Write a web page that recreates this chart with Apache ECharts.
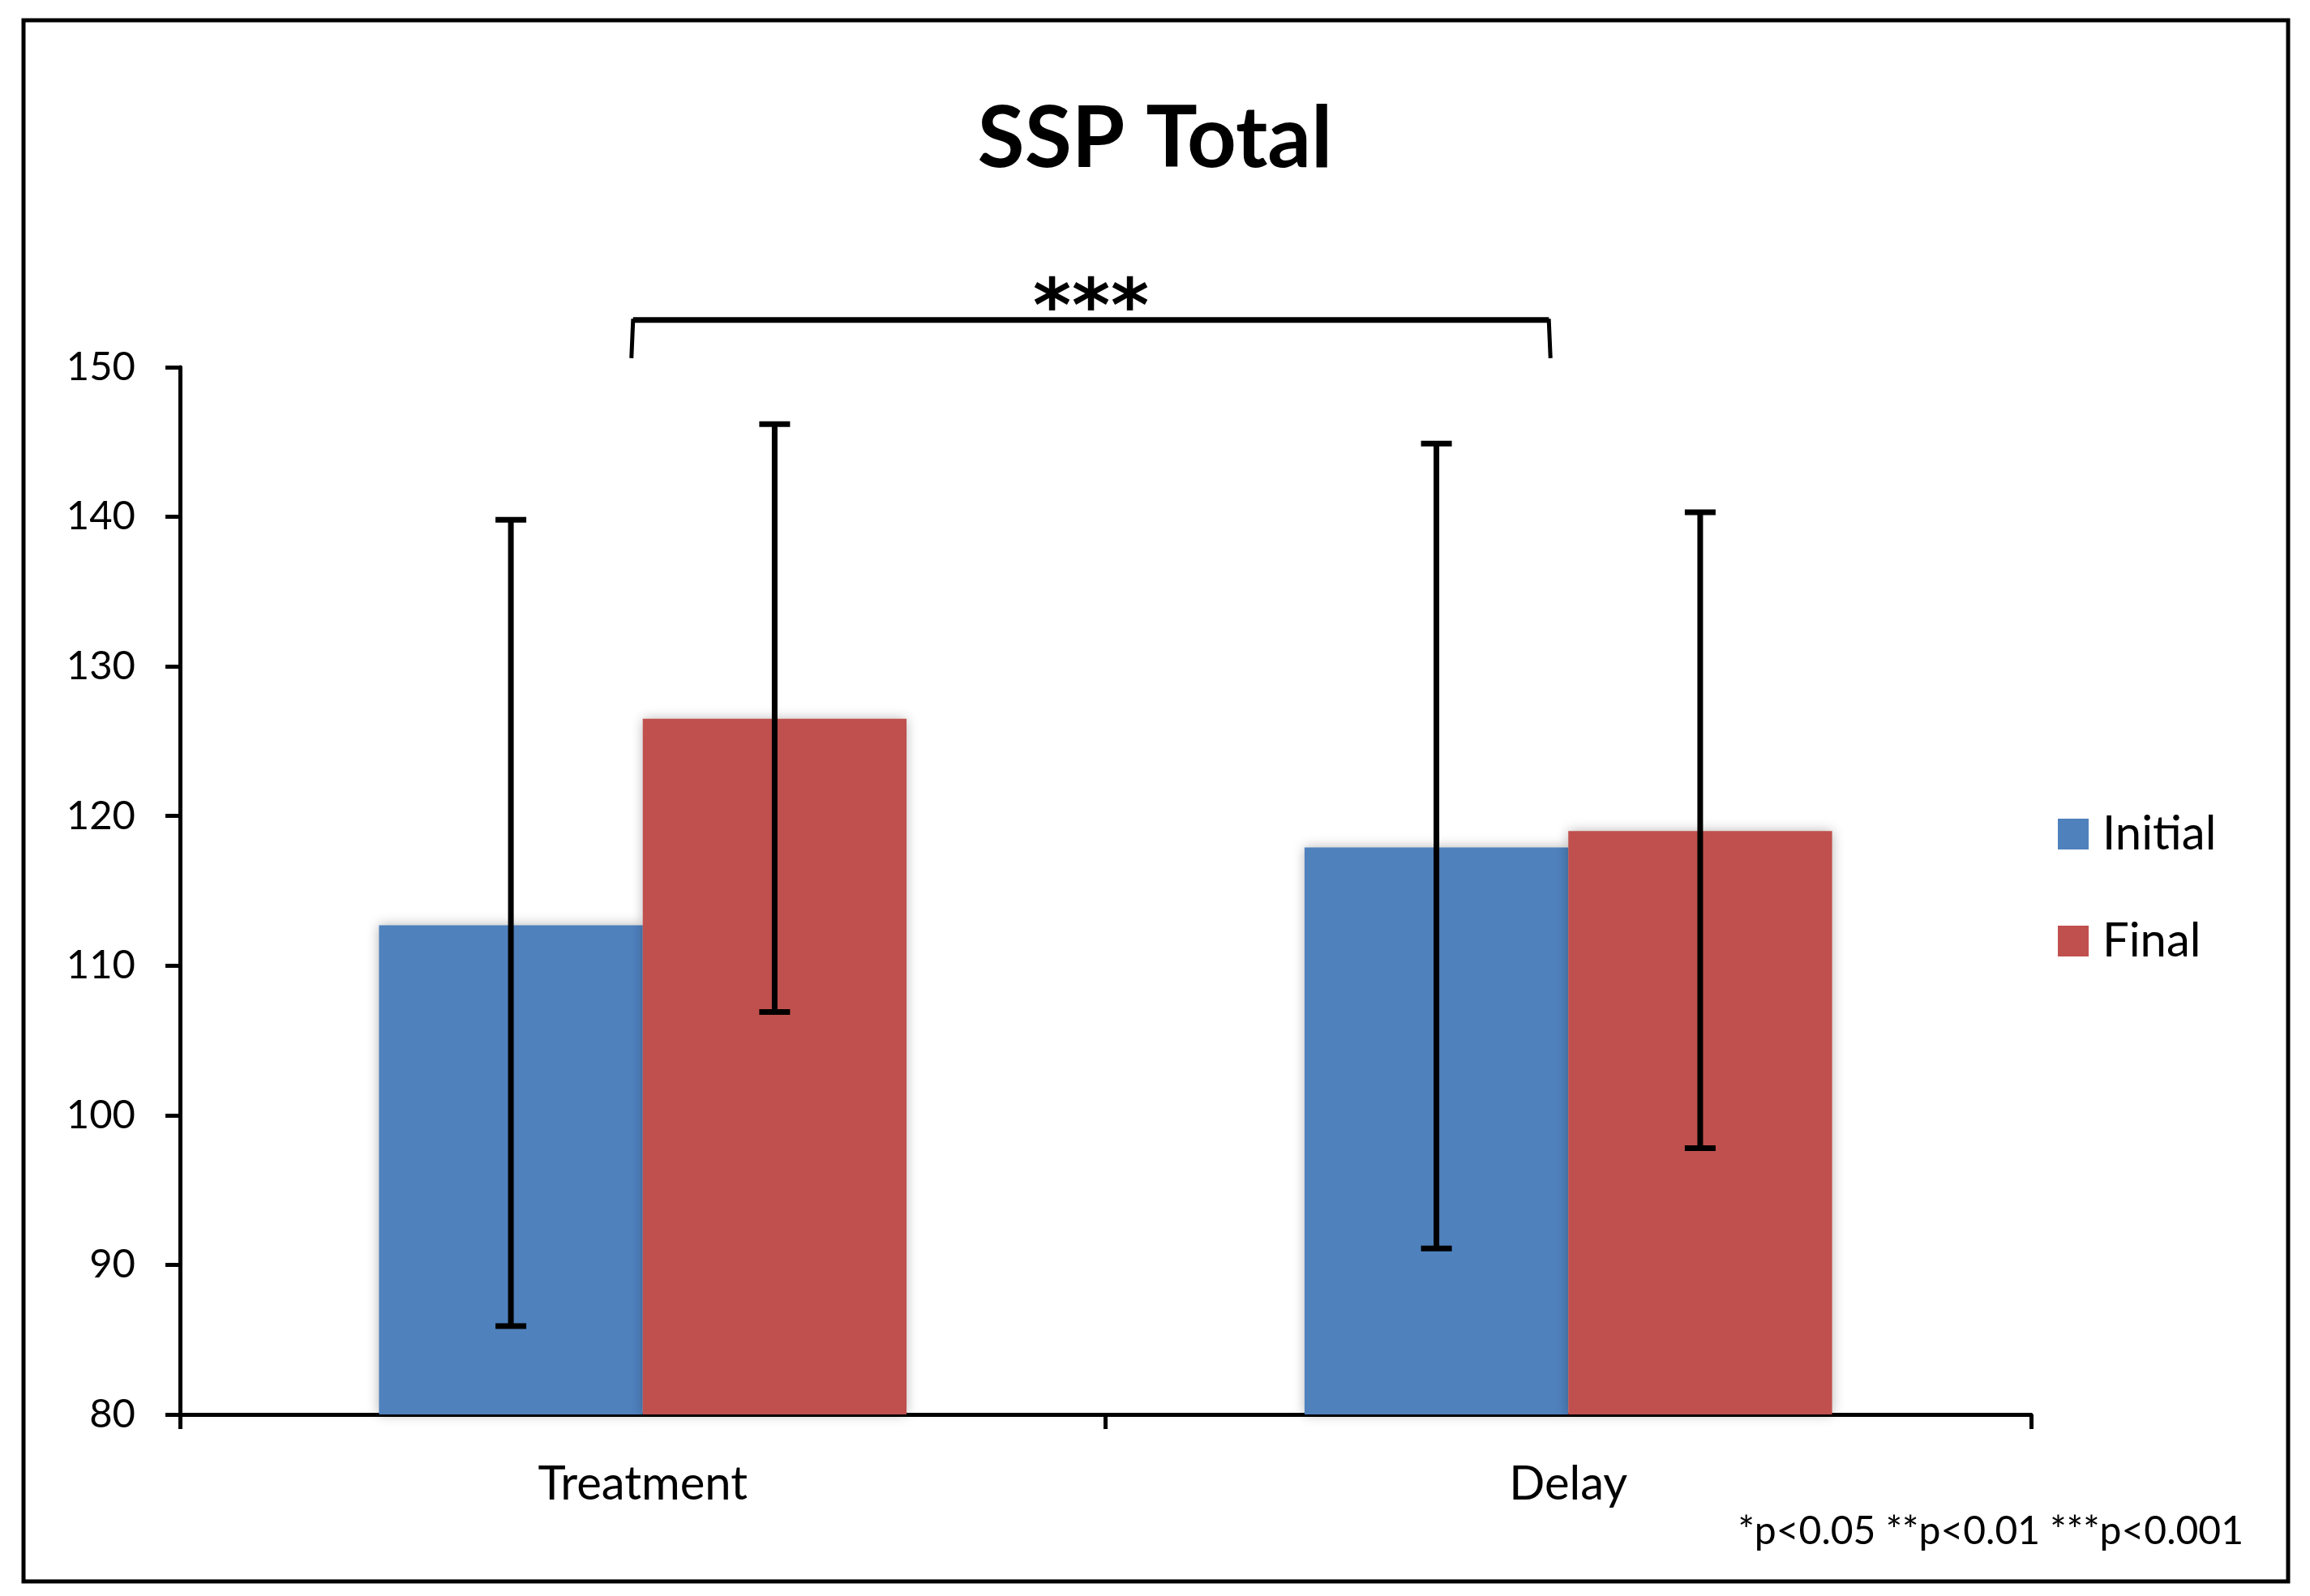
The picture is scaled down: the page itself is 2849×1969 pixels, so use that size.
<!DOCTYPE html>
<html>
<head>
<meta charset="utf-8">
<title>SSP Total</title>
<script src="https://cdn.jsdelivr.net/npm/echarts@6/dist/echarts.min.js"></script>
<style>
  html, body { margin: 0; padding: 0; background: #fff; }
  #chart { width: 2849px; height: 1969px; }
</style>
</head>
<body>
<div id="chart"></div>
<script>
// groups and series
const categories = ['Treatment', 'Delay'];
const seriesNames = ['Initial', 'Final'];
const initialMean = [112.7, 117.9];
const finalMean = [126.5, 119.0];
// error bar ends (low, high)
const initialLow = [85.9, 91.1];
const initialHigh = [139.8, 144.9];
const finalLow = [106.9, 97.8];
const finalHigh = [146.2, 140.3];
const yTicks = [80, 90, 100, 110, 120, 130, 140, 150];
// significance bracket
const sigLabel = '***';
const sigBracket = { from: 0, to: 1, bottom: 150.6, top: 153.1 };
const footnote = '*p<0.05 **p<0.01 ***p<0.001';

const colors = ['#4F81BD', '#C0504D'];
const FONT = 'Lato';
const groupShare = 0.57; // share of category band filled by the two bars

function errorSeries(idx, low, high) {
  const data = low.map((v, i) => [i, v, high[i]]);
  return {
    type: 'custom',
    name: seriesNames[idx] + ' error',
    data: data,
    z: 10,
    silent: true,
    clip: false,
    renderItem: function (params, api) {
      const band = api.size([1, 0])[0];
      const barW = band * groupShare / 2;
      const off = (idx === 0 ? -0.5 : 0.5) * barW;
      const lo = api.coord([api.value(0), api.value(1)]);
      const hi = api.coord([api.value(0), api.value(2)]);
      const x = lo[0] + off;
      const cap = 19;
      const st = { stroke: '#000', lineWidth: 7 };
      return {
        type: 'group',
        children: [
          { type: 'line', shape: { x1: x, y1: lo[1], x2: x, y2: hi[1] }, style: st },
          { type: 'line', shape: { x1: x - cap, y1: lo[1], x2: x + cap, y2: lo[1] }, style: st },
          { type: 'line', shape: { x1: x - cap, y1: hi[1], x2: x + cap, y2: hi[1] }, style: st }
        ]
      };
    }
  };
}

function renderChart() {
  const dom = document.getElementById('chart');
  const chart = echarts.init(dom);
  const option = {
    backgroundColor: '#fff',
    animation: false,
    title: {
      text: 'SSP Total',
      left: 'center',
      top: 114,
      textStyle: { fontFamily: FONT, fontWeight: 'bold', fontSize: 106, color: '#000' }
    },
    legend: {
      data: seriesNames,
      orient: 'vertical',
      left: 2533,
      top: 995,
      itemWidth: 38,
      itemHeight: 38,
      itemGap: 74,
      icon: 'rect',
      textStyle: {
        fontFamily: FONT, fontSize: 58, color: '#000', lineHeight: 58,
        padding: [0, 0, 0, 12]
      }
    },
    grid: {
      left: 222,
      right: 344,
      top: 453,
      bottom: 224
    },
    xAxis: {
      type: 'category',
      data: categories,
      axisLine: { lineStyle: { color: '#000', width: 5 } },
      axisTick: { show: true, interval: 0, length: 18, lineStyle: { color: '#000', width: 5 } },
      axisLabel: { fontFamily: FONT, fontSize: 58, color: '#000', margin: 57 }
    },
    yAxis: {
      type: 'value',
      min: yTicks[0],
      max: yTicks[yTicks.length - 1],
      interval: 10,
      splitLine: { show: false },
      axisLine: { show: true, lineStyle: { color: '#000', width: 5 } },
      axisTick: { show: true, length: 18, lineStyle: { color: '#000', width: 5 } },
      axisLabel: { fontFamily: FONT, fontSize: 49, color: '#000', margin: 55 }
    },
    series: [
      {
        name: seriesNames[0],
        type: 'bar',
        data: initialMean,
        barGap: '0%',
        barCategoryGap: ((1 - groupShare) * 100) + '%',
        itemStyle: { color: colors[0], shadowBlur: 14, shadowColor: 'rgba(0,0,0,0.28)' }
      },
      {
        name: seriesNames[1],
        type: 'bar',
        data: finalMean,
        itemStyle: { color: colors[1], shadowBlur: 14, shadowColor: 'rgba(0,0,0,0.28)' }
      },
      errorSeries(0, initialLow, initialHigh),
      errorSeries(1, finalLow, finalHigh),
      {
        type: 'custom',
        name: 'significance',
        data: [[sigBracket.from, sigBracket.to, sigBracket.bottom, sigBracket.top]],
        clip: false,
        silent: true,
        z: 10,
        renderItem: function (params, api) {
          const a = api.coord([api.value(0), api.value(2)]);
          const b = api.coord([api.value(1), api.value(3)]);
          const xa = a[0] - 14, xb = b[0] - 22;
          const yb = a[1], yt = b[1];
          const mid = (xa + xb) / 2;
          const chars = sigLabel.split('');
          const stars = chars.map((c, i) => ({
            type: 'text',
            style: {
              text: c, x: mid + (i - (chars.length - 1) / 2) * 48, y: yt - 56,
              align: 'center', verticalAlign: 'top',
              fontFamily: 'DejaVu Sans', fontWeight: 'bold', fontSize: 90, fill: '#000'
            }
          }));
          return {
            type: 'group',
            children: [
              {
                type: 'polyline',
                shape: { points: [[xa, yb], [xa + 2, yt], [xb - 2, yt], [xb, yb]] },
                style: { stroke: '#000', lineWidth: 5, fill: null }
              },
              {
                type: 'polyline',
                shape: { points: [[xa + 2, yt - 2], [xb - 2, yt - 2]] },
                style: { stroke: '#000', lineWidth: 5, fill: null }
              }
            ].concat(stars)
          };
        }
      }
    ],
    graphic: [
      {
        type: 'rect',
        shape: { x: 29, y: 25, width: 2793, height: 1926 },
        style: { fill: null, stroke: '#000', lineWidth: 5 },
        silent: true
      },
      {
        type: 'text',
        right: 82,
        top: 1866,
        style: { text: footnote, fontFamily: FONT, fontSize: 48, fill: '#000' }
      }
    ]
  };
  chart.setOption(option, true);
}
renderChart();
</script>
</body>
</html>
